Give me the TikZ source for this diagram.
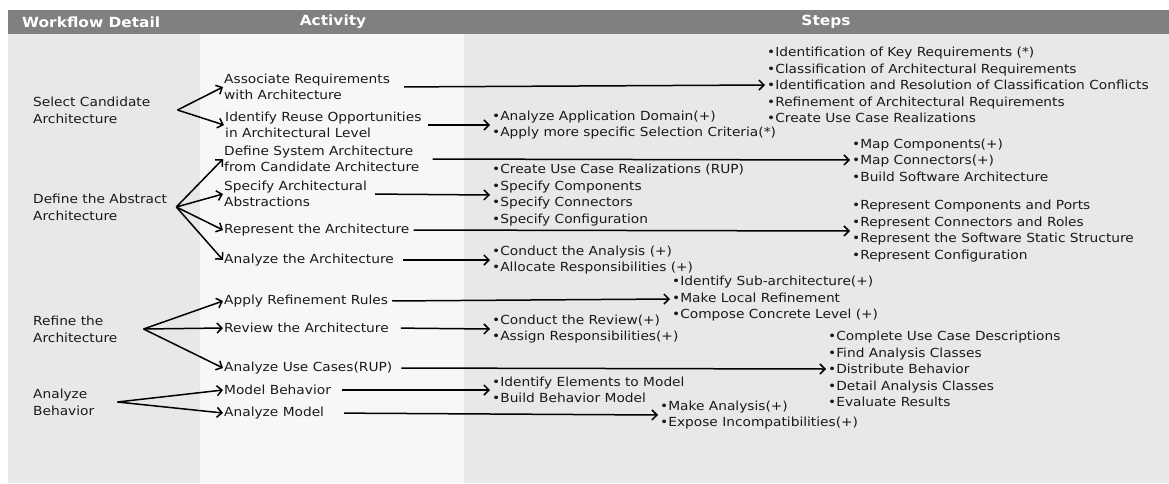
\documentclass[tikz,border=0pt]{standalone}
\usepackage{fontspec}
\setmainfont{DejaVu Sans}[FakeStretch=1.1]
\usetikzlibrary{arrows.meta,positioning}
\definecolor{headgray}{HTML}{808080}
\definecolor{colgray}{HTML}{E8E8E8}
\definecolor{colpale}{HTML}{F7F7F7}
\definecolor{inkgray}{HTML}{1A1A1A}
\tikzset{
  header/.style={text=white, font=\fontsize{14}{16}\selectfont\bfseries, inner sep=0pt},
  detail/.style={anchor=west, align=left, text=inkgray, font=\fontsize{12.5}{17}\selectfont, inner xsep=1pt, inner ysep=0pt},
  activity/.style={anchor=west, align=left, text=inkgray, font=\fontsize{12.5}{16}\selectfont, inner xsep=1pt, inner ysep=0pt},
  steplist/.style={anchor=west, align=left, text=inkgray, font=\fontsize{12.5}{16.5}\selectfont, inner xsep=2pt, inner ysep=0pt},
  arrow/.style={-{Straight Barb[length=5pt,width=10pt]}, line width=1.5pt, draw=black}
}

\begin{document}
\begin{tikzpicture}[x=1pt, y=-1pt]
  \useasboundingbox (0,0) rectangle (1169,483);
  \fill[colgray] (8,34) rectangle (200,483);
  \fill[colpale] (200,34) rectangle (464,483);
  \fill[colgray] (464,34) rectangle (1169,483);
  \fill[headgray] (8,10) rectangle (1169,34);

  \node[header, anchor=west] (hdetail) at (22,22) {Workflow Detail};
  \node[header] (hactivity) at (333,22) {Activity};
  \node[header] (hsteps) at (826,22) {Steps};

  \node[detail] (selcand) at (32,110) {Select Candidate\\Architecture};
  \node[detail] (defabs) at (32,207) {Define the Abstract\\Architecture};
  \node[detail] (refine) at (32,329) {Refine the\\Architecture};
  \node[detail] (anbeh) at (32,402) {Analyze\\Behavior};
  \coordinate[right=26pt of selcand] (selcand-fan);
  \coordinate[right=8pt of defabs] (defabs-fan);
  \coordinate[right=25pt of refine] (refine-fan);
  \coordinate[right=22pt of anbeh] (anbeh-fan);

  \node[activity] (assoc) at (223,87) {Associate Requirements\\with Architecture};
  \node[activity] (reuse) at (224,125) {Identify Reuse Opportunities\\in Architectural Level};
  \node[activity] (defsys) at (223,159) {Define System Architecture\\from Candidate Architecture};
  \node[activity] (specabs) at (223,194) {Specify Architectural\\Abstractions};
  \node[activity] (repr) at (223,230) {Represent the Architecture};
  \node[activity] (anarch) at (223,260) {Analyze the Architecture};
  \node[activity] (applyref) at (223,301) {Apply Refinement Rules};
  \node[activity] (review) at (223,328) {Review the Architecture};
  \node[activity] (usecase) at (223,368) {Analyze Use Cases(RUP)};
  \node[activity] (modelbeh) at (223,390) {Model Behavior};
  \node[activity] (anmodel) at (223,413) {Analyze Model};

  \node[steplist] (keyreq) at (765,85) {•Identification of Key Requirements (*)\\•Classification of Architectural Requirements\\•Identification and Resolution of Classification Conflicts\\•Refinement of Architectural Requirements\\•Create Use Case Realizations};
  \node[steplist] (domain) at (490,125) {•Analyze Application Domain(+)\\•Apply more specific Selection Criteria(*)};
  \node[steplist] (mapping) at (850,160) {•Map Components(+)\\•Map Connectors(+)\\•Build Software Architecture};
  \node[steplist] (specify) at (490,195) {•Create Use Case Realizations (RUP)\\•Specify Components\\•Specify Connectors\\•Specify Configuration};
  \node[steplist] (represent) at (850,231) {•Represent Components and Ports\\•Represent Connectors and Roles\\•Represent the Software Static Structure\\•Represent Configuration};
  \node[steplist] (conduct) at (490,260) {•Conduct the Analysis (+)\\•Allocate Responsibilities (+)};
  \node[steplist] (localref) at (670,299) {•Identify Sub-architecture(+)\\•Make Local Refinement\\•Compose Concrete Level (+)};
  \node[steplist] (reviewst) at (490,329) {•Conduct the Review(+)\\•Assign Responsibilities(+)};
  \node[steplist] (usecasest) at (826,369) {•Complete Use Case Descriptions\\•Find Analysis Classes\\•Distribute Behavior\\•Detail Analysis Classes\\•Evaluate Results};
  \node[steplist] (identify) at (490,390) {•Identify Elements to Model\\•Build Behavior Model};
  \node[steplist] (analysis) at (658,415) {•Make Analysis(+)\\•Expose Incompatibilities(+)};

  \draw[arrow] (selcand-fan) -- (assoc.west);
  \draw[arrow] (selcand-fan) -- (reuse.west);
  \draw[arrow] (defabs-fan) -- (defsys.west);
  \draw[arrow] (defabs-fan) -- (specabs.west);
  \draw[arrow] (defabs-fan) -- (repr.west);
  \draw[arrow] (defabs-fan) -- (anarch.west);
  \draw[arrow] (refine-fan) -- (applyref.west);
  \draw[arrow] (refine-fan) -- (review.west);
  \draw[arrow] (refine-fan) -- (usecase.west);
  \draw[arrow] (anbeh-fan) -- (modelbeh.west);
  \draw[arrow] (anbeh-fan) -- (anmodel.west);

  \draw[arrow, shorten <=13pt] (assoc.east) -- (keyreq.west);
  \draw[arrow, shorten <=5pt] (reuse.east) -- (domain.west);
  \draw[arrow, shorten <=12pt] (defsys.east) -- (mapping.west);
  \draw[arrow, shorten <=7pt] (specabs.east) -- (specify.west);
  \draw[arrow, shorten <=3pt] (repr.east) -- (represent.west);
  \draw[arrow, shorten <=8pt] (anarch.east) -- (conduct.west);
  \draw[arrow, shorten <=3pt] (applyref.east) -- (localref.west);
  \draw[arrow, shorten <=11pt] (review.east) -- (reviewst.west);
  \draw[arrow, shorten <=8pt] (usecase.east) -- (usecasest.west);
  \draw[arrow, shorten <=10pt] (modelbeh.east) -- (identify.west);
  \draw[arrow, shorten <=19pt] (anmodel.east) -- (analysis.west);
\end{tikzpicture}
\end{document}
